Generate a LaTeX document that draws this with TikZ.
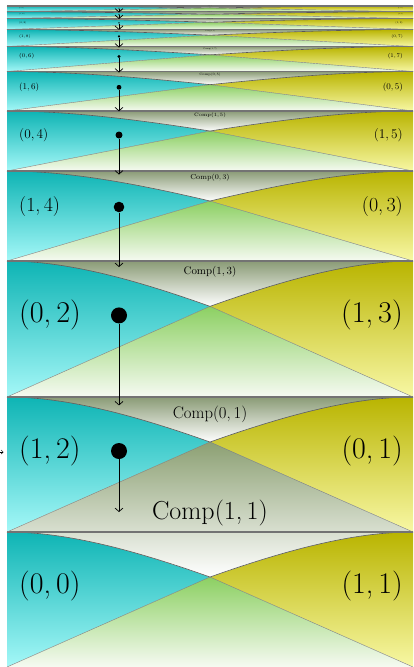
\documentclass[tikz,border=0pt]{standalone}
\usetikzlibrary{arrows.meta}
\definecolor{cyanT}{RGB}{14,180,180}
\definecolor{cyanB}{RGB}{165,248,248}
\definecolor{yellT}{RGB}{185,180,0}
\definecolor{yellB}{RGB}{248,248,165}
\definecolor{grayT}{RGB}{138,155,118}
\definecolor{greenT}{RGB}{140,208,98}
\definecolor{greenB}{RGB}{246,250,242}
\definecolor{compT}{RGB}{140,160,115}
\tikzset{
  border/.style={line width=1.2pt, draw=black!55},
  curveline/.style={line width=0.6pt, draw=black!65},
  lowline/.style={line width=0.4pt, draw=black!50},
  arr/.style={line width=0.7pt, -{Straight Barb[length=3.5pt,width=8pt]}},
  smallarr/.style={line width=0.5pt, -{Straight Barb[length=2pt,width=4pt]}},
  dotnode/.style={circle, fill=black, inner sep=0pt},
  lbl/.style={inner sep=0pt, text=black},
}
\begin{document}
\begin{tikzpicture}[x=1pt,y=-1pt]
\useasboundingbox (0,0) rectangle (414,667);
\def\strips{532/135/0/0/1/1/0/0/0/0,
397/135/1/2/0/1/16.7/414/8/61,
261/136/0/2/1/3/10.9/271.7/8/90,
171/90/1/4/0/3/7.2/177.7/5.3/60,
111/60/0/4/1/5/4.9/115.5/3.5/39.5,
71.5/39.5/1/6/0/5/3.3/74.5/2.4/24,
46.5/25/0/6/1/7/2.1/48.5/1.7/16,
29.5/17/1/8/0/7/1.5/31/1.2/11.2,
18.5/11/0/8/1/9/1.0/19.5/0.8/7,
11.8/6.7/1/10/0/9/0.7/12.5/0.55/4.5,
6/5.8/0/10/1/11/0.6/6.6/0.45/4.2}
% pass 1: fills
\foreach \T/\H/\a/\b/\c/\d/\cs/\cy/\r/\al [count=\i] in \strips {
  \pgfmathsetmacro\B{\T+\H}
  \pgfmathsetmacro\M{\T+\H/3}
  \pgfmathsetmacro\K{\T+0.15*\H}
  \shade[top color=cyanT,bottom color=cyanB] (7,\T) .. controls (70,\T) and (140,\K) .. (210,\M) -- (7,\B) -- cycle;
  \shade[top color=yellT,bottom color=yellB] (413,\T) .. controls (350,\T) and (280,\K) .. (210,\M) -- (413,\B) -- cycle;
  \shade[top color=grayT,bottom color=white] (7,\T) -- (413,\T) .. controls (350,\T) and (280,\K) .. (210,\M) .. controls (140,\K) and (70,\T) .. (7,\T) -- cycle;
  \shade[top color=greenT,bottom color=greenB] (7,\B) -- (210,\M) -- (413,\B) -- cycle;
}
% Comp(1,1) region spanning the two lowest strips
\shade[top color=compT,bottom color=white] (210,442) -- (413,532) .. controls (350,532) and (280,552.25) .. (210,577) .. controls (140,552.25) and (70,532) .. (7,532) -- cycle;
% pass 2: lines and labels
\foreach \T/\H/\a/\b/\c/\d/\cs/\cy/\r/\al [count=\i] in \strips {
  \pgfmathsetmacro\B{\T+\H}
  \pgfmathsetmacro\M{\T+\H/3}
  \pgfmathsetmacro\K{\T+0.15*\H}
  \pgfmathsetmacro\fs{0.222*\H}
  \pgfmathsetmacro\ly{\T+0.4*\H}
  \draw[lowline] (7,\B) -- (210,\M) -- (413,\B);
  \draw[curveline] (7,\T) .. controls (70,\T) and (140,\K) .. (210,\M) .. controls (280,\K) and (350,\T) .. (413,\T);
  \draw[border] (7,\T) -- (413,\T);
  \node[lbl, anchor=west] (L\i) at (19,\ly) {\fontsize{\fs}{\fs}\selectfont (\a,\,\b)};
  \node[lbl, anchor=east] (R\i) at (403,\ly) {\fontsize{\fs}{\fs}\selectfont (\c,\,\d)};
  \ifnum\i>1
    \node[lbl] (C\i) at (210,\cy) {\fontsize{\cs}{\cs}\selectfont Comp(\c,\,\d)};
  \fi
}
\node[lbl] (Cone) at (210,513) {\fontsize{26}{26}\selectfont Comp(1,\,1)};
% pass 3: dots and arrows
\foreach \T/\H/\a/\b/\c/\d/\cs/\cy/\r/\al [count=\i] in \strips {
  \ifnum\i>1
    \pgfmathsetmacro\ly{\T+0.4*\H}
    \pgfmathsetmacro\ty{\ly+\al}
    \pgfmathsetmacro\dd{2*\r}
    \node[dotnode, minimum size=\dd pt] (D\i) at (119,\ly) {};
    \coordinate (tip\i) at (119,\ty);
    \draw[arr] (D\i) -- (tip\i);
  \fi
}
\coordinate (la) at (-3,452);
\coordinate (lb) at (3.5,452);
\draw[smallarr] (la) -- (lb);
\end{tikzpicture}
\end{document}
